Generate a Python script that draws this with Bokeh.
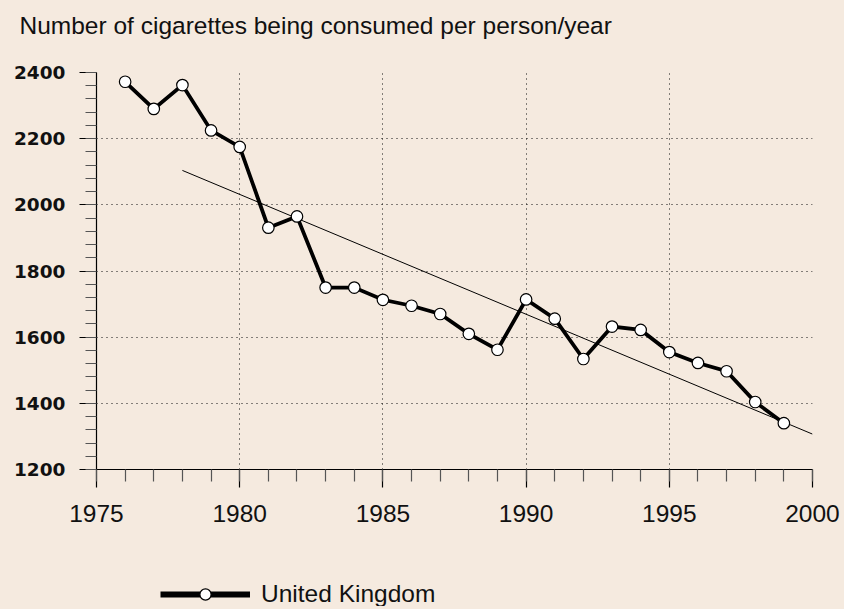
from bokeh.plotting import figure
from bokeh.models import Range1d, SingleIntervalTicker, Legend, LegendItem
from bokeh.layouts import column
from bokeh.embed import file_html
from bokeh.resources import INLINE

# ---- data ----
years = [1976, 1977, 1978, 1979, 1980, 1981, 1982, 1983, 1984, 1985, 1986, 1987,
         1988, 1989, 1990, 1991, 1992, 1993, 1994, 1995, 1996, 1997, 1998, 1999]
uk_consumption = [2372, 2290, 2362, 2225, 2175, 1931, 1965, 1750, 1750, 1713, 1695, 1670,
                  1610, 1562, 1714, 1656, 1534, 1632, 1622, 1555, 1522, 1497, 1404, 1340]
trend_years = [1978, 2000]
trend_values = [2104, 1307]
series_name = "United Kingdom"
title_text = "Number of cigarettes being consumed per person/year"

BG = "#f5eadf"


def strip(height):
    f = figure(width=840, height=height, output_backend="svg", toolbar_location=None,
               x_range=Range1d(0, 1), y_range=Range1d(0, 1),
               x_axis_type=None, y_axis_type=None, min_border=0)
    f.background_fill_color = BG
    f.border_fill_color = BG
    f.outline_line_color = None
    f.xgrid.visible = False
    f.ygrid.visible = False
    return f


# ---- title strip ----
p0 = strip(50)
p0.title.text = title_text
p0.title.text_font = "Liberation Sans"
p0.title.text_font_size = "24.5px"
p0.title.text_font_style = "normal"
p0.title.text_color = "#111111"
p0.title.align = "left"
p0.title.offset = -77
p0.title.standoff = 18

# ---- main chart ----
p = figure(width=840, height=506, output_backend="svg", toolbar_location=None,
           x_range=Range1d(1975, 2000), y_range=Range1d(1200, 2400),
           min_border_left=96, min_border_right=28, min_border_top=22, min_border_bottom=87)
p.background_fill_color = BG
p.border_fill_color = BG
p.outline_line_color = None

p.xaxis.ticker = SingleIntervalTicker(interval=5, num_minor_ticks=5)
p.yaxis.ticker = SingleIntervalTicker(interval=200, num_minor_ticks=5)
for ax in (p.xaxis, p.yaxis):
    ax.axis_line_color = "black"
    ax.axis_line_width = 1.2
    ax.major_tick_line_color = "black"
    ax.major_tick_line_width = 1.2
    ax.minor_tick_line_color = "#555555"
    ax.minor_tick_line_width = 1.2
    ax.major_tick_in = 0
    ax.minor_tick_in = 0
    ax.major_label_text_color = "#111111"
p.xaxis.major_tick_out = 18
p.xaxis.minor_tick_out = 12
p.xaxis.major_label_text_font = "Liberation Sans"
p.xaxis.major_label_text_font_size = "24.5px"
p.xaxis.major_label_standoff = 17
p.yaxis.major_tick_out = 17
p.yaxis.minor_tick_out = 11
p.yaxis.major_label_text_font = "DejaVu Sans"
p.yaxis.major_label_text_font_size = "18.5px"
p.yaxis.major_label_text_font_style = "bold"
p.yaxis.major_label_standoff = 14

for g in (p.xgrid, p.ygrid):
    g.grid_line_color = "#111111"
    g.grid_line_width = 1.1
    g.grid_line_dash = "1 4"

# trend line
p.line(trend_years, trend_values, line_color="black", line_width=1)

# series
p.line(years, uk_consumption, line_color="black", line_width=3.8, line_join="miter")
p.scatter(years, uk_consumption, marker="circle", size=11.5, fill_color="white",
          line_color="black", line_width=1.2)

# ---- legend strip ----
p2 = strip(50)
lg_line = p2.line(x=[5, 6], y=[5, 5], line_color="black", line_width=6)
lg_dot = p2.scatter(x=[5], y=[5], marker="circle", size=11, fill_color="white",
                    line_color="black", line_width=1.2)
legend = Legend(items=[LegendItem(label=series_name, renderers=[lg_line, lg_dot])],
                location=(64, -2), padding=0, margin=0, glyph_width=90, glyph_height=28,
                label_height=28, label_standoff=11, label_text_font="Liberation Sans",
                label_text_font_size="24.5px", label_text_color="#111111",
                label_text_baseline="middle",
                border_line_color=None, background_fill_alpha=0)
p2.add_layout(legend, "center")

layout = column(p0, p, p2, spacing=0)

try:
    from jinja2 import Template
    tmpl = Template('{% extends base %}{% block preamble %}<style>html,body{background:#f5eadf;}</style>{% endblock %}')
    html = file_html(layout, INLINE, title="chart", template=tmpl)
except Exception:
    html = file_html(layout, INLINE, title="chart")
open("out.html", "w").write(html)
